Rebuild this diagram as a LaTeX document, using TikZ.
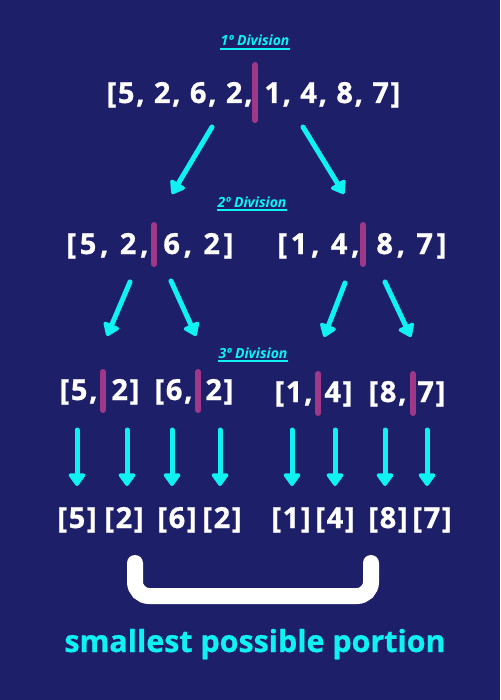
\documentclass[tikz,border=0pt]{standalone}
\usepackage{fontspec}
\setmainfont{Open Sans}[BoldFeatures={FakeBold=0.8}]
\newfontfamily\arrA{Open Sans}[LetterSpace=6, BoldFeatures={FakeBold=0.8}]
\newfontfamily\arrB{Open Sans}[LetterSpace=13, BoldFeatures={FakeBold=0.8}]
\usetikzlibrary{arrows.meta}
\definecolor{bg}{HTML}{1E1F69}
\definecolor{cy}{HTML}{10F2F2}
\definecolor{barc}{HTML}{A0388A}
\tikzset{
  txtA/.style={text=white, inner sep=0pt, font=\arrA\bfseries\fontsize{14.5}{16}\selectfont},
  txtB/.style={text=white, inner sep=0pt, font=\arrB\bfseries\fontsize{14.5}{16}\selectfont},
  divlabel/.style={text=cy, inner sep=0pt, anchor=base, font=\bfseries\itshape\fontsize{7}{8}\selectfont},
  uline/.style={cy, line width=0.6pt},
  splitbar/.style={barc, line width=3pt, line cap=round},
  arr/.style={cy, line width=2.5pt, line cap=round, -{Triangle[width=9.5pt,length=7pt,round]}},
  brace/.style={white, line width=8pt, line cap=round, rounded corners=7pt},
}
\begin{document}
\begin{tikzpicture}[x=0.5pt,y=-0.5pt]
\fill[bg] (0,0) rectangle (500,700);
\useasboundingbox (0,0) rectangle (500,700);

% level 1
\node[divlabel] (d1) at (255,46) {1º Division};
\draw[uline] ([yshift=-1.5pt]d1.base west) -- ([yshift=-1.5pt]d1.base east);
\node[txtA, anchor=base east] (t1l) at (253,103) {[5, 2, 6, 2,};
\node[txtA, anchor=base west] (t1r) at (264,103) {1, 4, 8, 7]};
\coordinate (b1t) at (255,65); \coordinate (b1b) at (255,120);
\draw[splitbar] (b1t) -- (b1b);

% arrows level 1 -> 2
\coordinate (a1s) at (212,127); \coordinate (a1e) at (172,194);
\coordinate (a2s) at (303,127); \coordinate (a2e) at (344,194);
\draw[arr] (a1s) -- (a1e);
\draw[arr] (a2s) -- (a2e);

% level 2
\node[divlabel] (d2) at (252,207) {2º Division};
\draw[uline] ([yshift=-1.5pt]d2.base west) -- ([yshift=-1.5pt]d2.base east);
\node[txtB, anchor=base east] (t2al) at (149,254) {[5, 2,};
\node[txtB, anchor=base west] (t2ar) at (163,254) {6, 2]};
\coordinate (b2at) at (154,225); \coordinate (b2ab) at (154,264);
\draw[splitbar] (b2at) -- (b2ab);
\node[txtB, anchor=base east] (t2bl) at (360,254) {[1, 4,};
\node[txtB, anchor=base west] (t2br) at (376,254) {8, 7]};
\coordinate (b2bt) at (363,225); \coordinate (b2bb) at (363,264);
\draw[splitbar] (b2bt) -- (b2bb);

% arrows level 2 -> 3
\coordinate (a3s) at (130,282); \coordinate (a3e) at (107,336);
\coordinate (a4s) at (171,281); \coordinate (a4e) at (196,336);
\coordinate (a5s) at (345,283); \coordinate (a5e) at (324,337);
\coordinate (a6s) at (385,282); \coordinate (a6e) at (411,337);
\draw[arr] (a3s) -- (a3e);
\draw[arr] (a4s) -- (a4e);
\draw[arr] (a5s) -- (a5e);
\draw[arr] (a6s) -- (a6e);

% level 3
\node[divlabel] (d3) at (253,358) {3º Division};
\draw[uline] ([yshift=-1.5pt]d3.base west) -- ([yshift=-1.5pt]d3.base east);
\node[txtA, anchor=base east] (t3al) at (98,400) {[5,};
\node[txtA, anchor=base west] (t3ar) at (111,400) {2]};
\coordinate (b3at) at (103,372); \coordinate (b3ab) at (103,410);
\draw[splitbar] (b3at) -- (b3ab);
\node[txtA, anchor=base east] (t3bl) at (193,400) {[6,};
\node[txtA, anchor=base west] (t3br) at (205,400) {2]};
\coordinate (b3bt) at (198,372); \coordinate (b3bb) at (198,410);
\draw[splitbar] (b3bt) -- (b3bb);
\node[txtA, anchor=base east] (t3cl) at (313,402) {[1,};
\node[txtA, anchor=base west] (t3cr) at (324,402) {4]};
\coordinate (b3ct) at (318,374); \coordinate (b3cb) at (318,413);
\draw[splitbar] (b3ct) -- (b3cb);
\node[txtA, anchor=base east] (t3dl) at (407,402) {[8,};
\node[txtA, anchor=base west] (t3dr) at (417,402) {7]};
\coordinate (b3dt) at (413,374); \coordinate (b3db) at (413,413);
\draw[splitbar] (b3dt) -- (b3db);

% arrows level 3 -> 4
\foreach \n/\x in {1/77,2/127,3/172,4/220,5/292,6/335,7/385,8/427}{
  \coordinate (v\n s) at (\x,430);
  \coordinate (v\n e) at (\x,486);
  \draw[arr] (v\n s) -- (v\n e);
}

% level 4
\foreach \n/\x/\v in {1/77/5,2/124/2,3/177/6,4/222/2,5/291/1,6/335/4,7/388/8,8/432/7}{
  \node[txtA, anchor=base] (s\n) at (\x,528) {[\v]};
}

% bracket
\coordinate (k1) at (135,563); \coordinate (k2) at (135,596);
\coordinate (k3) at (371,596); \coordinate (k4) at (371,563);
\draw[brace] (k1) -- (k2) -- (k3) -- (k4);

\node[text=cy, inner sep=0pt, anchor=base, font=\bfseries\fontsize{15.2}{17}\selectfont] (cap) at (255,652) {smallest possible portion};
\end{tikzpicture}
\end{document}
